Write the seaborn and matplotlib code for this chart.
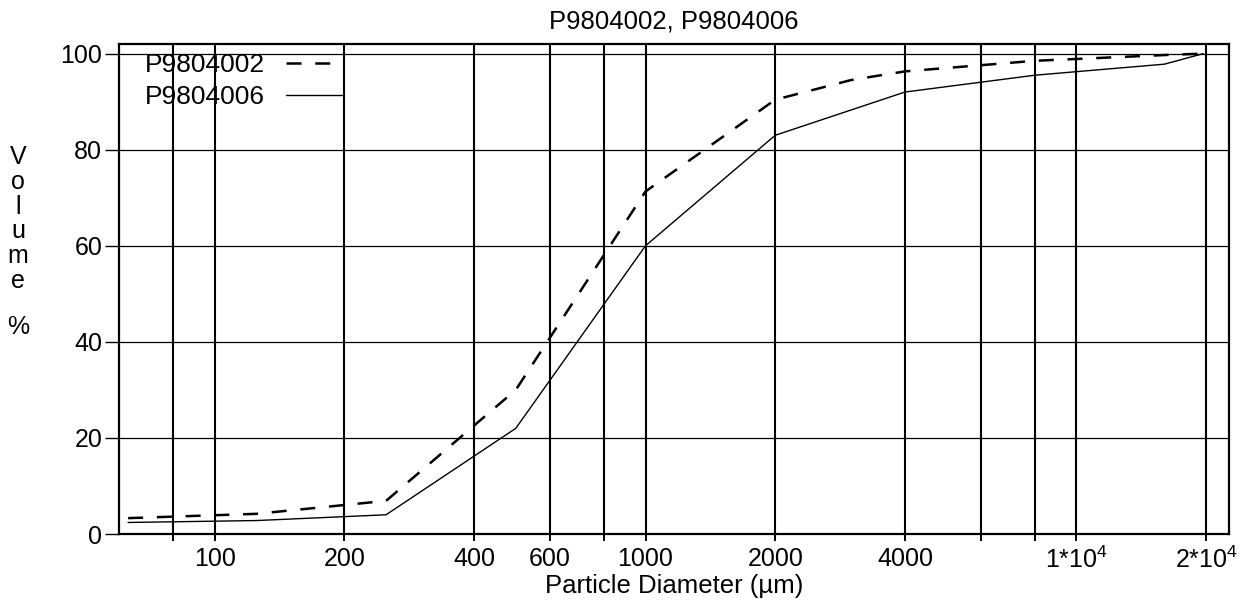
import numpy as np
import pandas as pd
import matplotlib
matplotlib.use("Agg")
import matplotlib.pyplot as plt
import seaborn as sns

sns.set_style("white")
plt.rcParams["font.family"] = ["Liberation Sans", "DejaVu Sans"]
plt.rcParams["mathtext.fontset"] = "custom"
plt.rcParams["mathtext.rm"] = "Liberation Sans"
plt.rcParams["mathtext.default"] = "regular"
plt.rcParams["text.color"] = "black"
plt.rcParams["axes.labelcolor"] = "black"
plt.rcParams["xtick.color"] = "black"
plt.rcParams["ytick.color"] = "black"

# volume % vs particle diameter (um)
size_02 = [63, 125, 250, 500, 1000, 2000, 3000, 4000, 8000, 16000, 19700]
vol_02 = [3.3, 4.2, 6.9, 30.0, 71.3, 90.4, 94.5, 96.3, 98.5, 99.7, 100.0]
size_06 = [63, 125, 250, 500, 1000, 2000, 4000, 8000, 16000, 19700]
vol_06 = [2.4, 2.8, 4.0, 22.0, 60.0, 83.0, 92.0, 95.5, 97.8, 100.0]

grid_x = [80, 100, 200, 400, 600, 800, 1000, 2000, 4000, 6000, 8000, 10000, 20000]
grid_x_text = ["", "100", "200", "400", "600", "", "1000", "2000", "4000", "", "",
               "1*$10^4$", "2*$10^4$"]
grid_y = [0, 20, 40, 60, 80, 100]

df02 = pd.DataFrame({"size": size_02, "vol": vol_02})
df06 = pd.DataFrame({"size": size_06, "vol": vol_06})

W, H = 1257, 606
fig = plt.figure(figsize=(W / 100, H / 100), dpi=100)
ax = fig.add_axes([119 / W, 1 - 534 / H, (1229 - 119) / W, (534 - 44) / H])

sns.lineplot(data=df02, x="size", y="vol", ax=ax, color="black", lw=1.8,
             label="P9804002", sort=False)
sns.lineplot(data=df06, x="size", y="vol", ax=ax, color="black", lw=1.0,
             label="P9804006", sort=False)
ax.lines[0].set_dashes((6.0, 5.5))

ax.set_xscale("log")
ax.set_xlim(60, 22600)
ax.set_ylim(0, 102)
ax.set_xticks(grid_x)
ax.set_xticklabels(grid_x_text)
ax.minorticks_off()
ax.set_yticks(grid_y)

ax.grid(axis="x", color="black", lw=1.5)
ax.grid(axis="y", color="black", lw=0.9)
ax.set_axisbelow(True)
for s in ax.spines.values():
    s.set_color("black")
    s.set_linewidth(1.6)

ax.tick_params(axis="x", direction="out", length=5, width=1.4, pad=4,
               labelsize=18, bottom=True)
ax.tick_params(axis="y", direction="out", length=10, width=1.0, pad=2,
               labelsize=18, left=True)

ax.set_title("P9804002, P9804006", fontsize=18.5, pad=11)
ax.set_xlabel("Particle Diameter (µm)", fontsize=18.5, labelpad=1)
ax.set_ylabel("")

for i, ch in enumerate("Volume"):
    fig.text(18 / W, 1 - (157 + 24.8 * i) / H, ch, ha="center", va="center",
             fontsize=18)
fig.text(18 / W, 1 - 327 / H, "%", ha="center", va="center", fontsize=18)

ax.legend(loc="upper left", bbox_to_anchor=(0.0234, 0.982), frameon=False,
          markerfirst=False, fontsize=19, handlelength=2.1, handletextpad=0.8,
          labelspacing=0.3, borderaxespad=0, borderpad=0)

fig.savefig("out.png", dpi=100)
